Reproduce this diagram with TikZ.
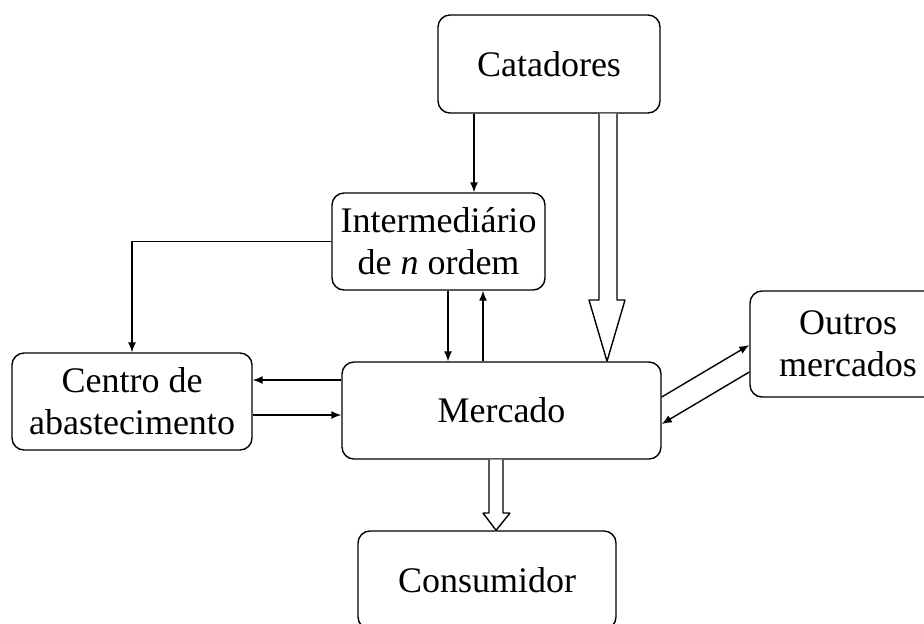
\documentclass[tikz,border=0pt]{standalone}
\usepackage{fontspec}
\setmainfont{Liberation Serif}
\usepackage{tikz}
\usetikzlibrary{arrows.meta}

\begin{document}
\begin{tikzpicture}[x=0.5pt, y=-0.5pt, line join=bevel,
  caixa/.style={draw, line width=0.7pt, rounded corners=6pt, align=center,
    inner sep=0pt, font=\fontsize{18}{21}\selectfont},
  seta/.style={line width=0.7pt, -{Latex[length=5pt,width=4pt]}},
  oca/.style={draw, line width=0.7pt, fill=white}]

\useasboundingbox (0,0) rectangle (924,623);
\clip (0,0) rectangle (924,623);

\node[caixa, minimum width=111pt, minimum height=49pt] (cat) at (549,64) {Catadores};
\node[caixa, minimum width=106.5pt, minimum height=48.5pt] (inter) at (438.5,241.5) {Intermedi\'ario\\de \textit{n} ordem};
\node[caixa, minimum width=120pt, minimum height=48.5pt] (centro) at (132,401.5) {Centro de\\abastecimento};
\node[caixa, minimum width=159.5pt, minimum height=48.5pt] (merc) at (501.5,410.5) {Mercado};
\node[caixa, minimum width=98pt, minimum height=53pt] (outros) at (848,344) {Outros\\mercados};
\node[caixa, minimum width=129pt, minimum height=49pt] (cons) at (487,580) {Consumidor};

\draw[seta] (474,0 |- cat.south) -- (474,0 |- inter.north);
\draw[seta] (inter.west) -| (centro.north);
\draw[seta] (448,0 |- inter.south) -- (448,0 |- merc.north);
\draw[seta] (483,0 |- merc.north) -- (483,0 |- inter.south);

\draw[seta] (merc.west |- 0,380) -- (centro.east |- 0,380);
\draw[seta] (centro.east |- 0,415) -- (merc.west |- 0,415);

\draw[seta] (merc.east |- 0,397) -- (outros.west |- 0,345);
\draw[seta] (outros.west |- 0,372) -- (merc.east |- 0,424);

% setas largas
\draw[oca] (599,0 |- cat.south) -- (599,300) -- (589,300) -- (607,0 |- merc.north)
  -- (625,300) -- (617,300) -- (617,0 |- cat.south);
\draw[oca] (489,0 |- merc.south) -- (489,513) -- (483,513) -- (496,0 |- cons.north)
  -- (510,513) -- (503,513) -- (503,0 |- merc.south);

\end{tikzpicture}
\end{document}
